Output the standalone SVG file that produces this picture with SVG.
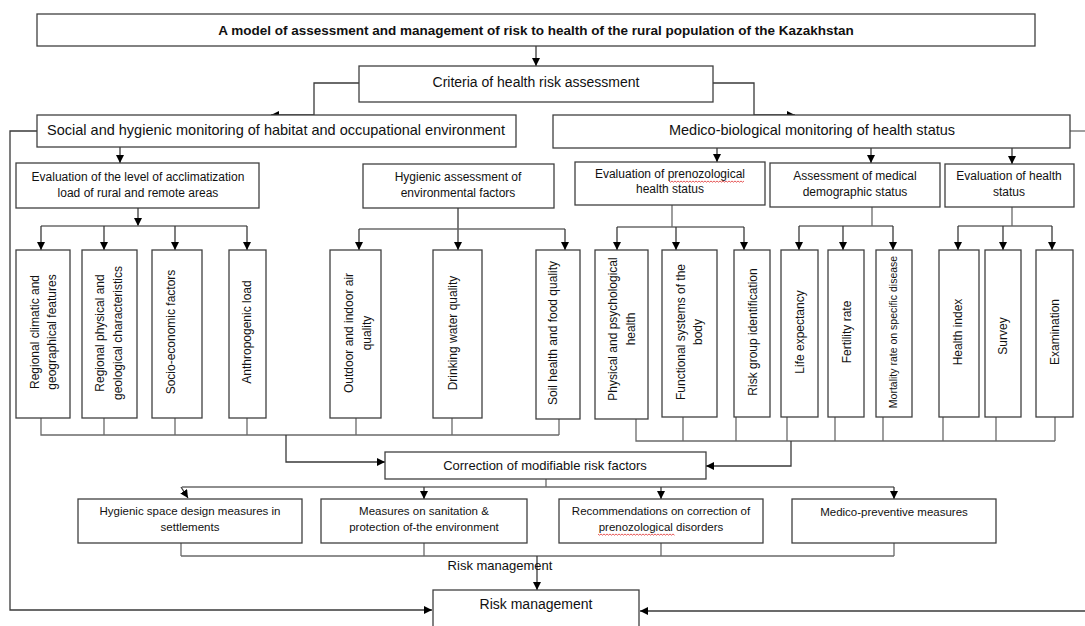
<svg xmlns="http://www.w3.org/2000/svg" width="1085" height="626" viewBox="0 0 1085 626">
<defs>
<marker id="ah" viewBox="0 0 10 10" refX="10" refY="5" markerWidth="8" markerHeight="8" markerUnits="userSpaceOnUse" orient="auto"><path d="M0,0 L10,5 L0,10 z" fill="#000"/></marker>
<style>
.b{fill:#fff;stroke:#404040;stroke-width:1.3}
.c{fill:none;stroke:#6a6a6a;stroke-width:1.3}
.a{fill:none;stroke:#3a3a3a;stroke-width:1.3;marker-end:url(#ah)}
text{font-family:"Liberation Sans",Arial,sans-serif;fill:#111;text-anchor:middle}
.t0{font-size:13.5px;font-weight:bold}
.t1{font-size:14px}
.t1w{font-size:14.5px}
.t2{font-size:12px}
.t3{font-size:11.5px}
.tc{font-size:13px}
.v{font-size:12px}
.vs{font-size:10.5px}
.sp{fill:none;stroke:#e03030;stroke-width:0.8}
</style>
</defs>
<rect width="1085" height="626" fill="#fff"/>

<g id="connectors">
<path class="a" d="M536,46 V66"/>
<path class="a" d="M359,83 H314 V115 H271"/>
<path class="a" d="M713,83 H754 V115 H795"/>
<path class="a" d="M37,131 H10 V610 H432"/>
<path class="c" d="M1070,131 H1085"/>
<path class="a" d="M1085,611 H640"/>
<path class="a" d="M120,147 V163"/>
<path class="a" d="M717,148 V162"/>
<path class="a" d="M871,148 V163"/>
<path class="a" d="M1012,148 V164"/>

<path class="a" d="M138,208 V226"/>
<path class="c" d="M41,226 H247"/>
<path class="a" d="M41,226 V250"/><path class="a" d="M104,226 V250"/><path class="a" d="M175,226 V250"/><path class="a" d="M247,226 V250"/>

<path class="a" d="M458,208 V250"/>
<path class="c" d="M359,229 H565"/>
<path class="a" d="M359,229 V250"/><path class="a" d="M565,229 V250"/>

<path class="c" d="M672,205 V227 M617,227 H744"/>
<path class="a" d="M617,227 V250"/><path class="a" d="M676,227 V250"/><path class="a" d="M744,227 V250"/>

<path class="c" d="M872,207 V226 M799,226 H893"/>
<path class="a" d="M799,226 V250"/><path class="a" d="M843,226 V250"/><path class="a" d="M893,226 V250"/>

<path class="c" d="M1012,207 V226 M958,226 H1052"/>
<path class="a" d="M958,226 V250"/><path class="a" d="M1003,226 V250"/><path class="a" d="M1052,226 V250"/>

<path class="c" d="M41,418 V435 H559 M104,418 V435 M175,418 V435 M247,418 V435 M356,418 V435 M452,418 V435 M559,419 V435"/>
<path class="a" d="M286,435 V462 H385"/>
<path class="c" d="M636,419 V441 H1055 M683,417 V441 M736,417 V441 M787,417 V441 M835,417 V441 M883,417 V441 M943,417 V441 M996,417 V441 M1055,417 V441"/>
<path class="a" d="M791,441 V466 H706"/>

<path class="c" d="M546,479 V487 M182,487 H894"/>
<path class="a" d="M181,487 L188,498"/>
<path class="a" d="M424,487 V499"/><path class="a" d="M661,487 V499"/><path class="a" d="M894,487 V499"/>
<path class="c" d="M181,543 V556 M424,543 V556 M661,543 V556 M894,543 V556 M181,556 H894"/>
<path class="a" d="M537,556 V590"/>
</g>

<g id="n-title"><rect class="b" x="37" y="14" width="998" height="32"/><text class="t0" x="536" y="35">A model of assessment and management of risk to health of the rural population of the Kazakhstan</text></g>
<g id="n-criteria"><rect class="b" x="359" y="66" width="354" height="36"/><text class="t1" x="536" y="87">Criteria of health risk assessment</text></g>
<g id="n-social"><rect class="b" x="37" y="115" width="479" height="32"/><text class="t1w" x="276" y="135">Social and hygienic monitoring of habitat and occupational environment</text></g>
<g id="n-medico"><rect class="b" x="553" y="115" width="517" height="33"/><text class="t1w" x="812" y="135">Medico-biological monitoring of health status</text></g>

<g id="n-eval-accl"><rect class="b" x="16" y="163" width="243" height="45"/><text class="t2" x="138" y="181">Evaluation of the level of acclimatization</text><text class="t2" x="138" y="197">load of rural and remote areas</text></g>
<g id="n-hyg-assess"><rect class="b" x="363" y="164" width="191" height="44"/><text class="t2" x="458" y="181">Hygienic assessment of</text><text class="t2" x="458" y="197">environmental factors</text></g>
<g id="n-prenoz"><rect class="b" x="575" y="162" width="190" height="43"/><text class="t2" x="670" y="178">Evaluation of prenozological</text><text class="t2" x="670" y="193">health status</text><path class="sp" d="M669,181 l1.5,1.2 1.5,-1.2 1.5,1.2 1.5,-1.2 1.5,1.2 1.5,-1.2 1.5,1.2 1.5,-1.2 1.5,1.2 1.5,-1.2 1.5,1.2 1.5,-1.2 1.5,1.2 1.5,-1.2 1.5,1.2 1.5,-1.2 1.5,1.2 1.5,-1.2 1.5,1.2 1.5,-1.2 1.5,1.2 1.5,-1.2 1.5,1.2 1.5,-1.2 1.5,1.2 1.5,-1.2 1.5,1.2 1.5,-1.2 1.5,1.2 1.5,-1.2 1.5,1.2 1.5,-1.2 1.5,1.2 1.5,-1.2 1.5,1.2 1.5,-1.2 1.5,1.2 1.5,-1.2 1.5,1.2 1.5,-1.2 1.5,1.2 1.5,-1.2 1.5,1.2 1.5,-1.2 1.5,1.2 1.5,-1.2 1.5,1.2 1.5,-1.2 1.5,1.2 1.5,-1.2"/></g>
<g id="n-demog"><rect class="b" x="770" y="163" width="170" height="44"/><text class="t2" x="855" y="180">Assessment of medical</text><text class="t2" x="855" y="196">demographic status</text></g>
<g id="n-eval-health"><rect class="b" x="945" y="164" width="129" height="43"/><text class="t2" x="1009" y="180">Evaluation of health</text><text class="t2" x="1009" y="196">status</text></g>

<g id="n-climatic"><rect class="b" x="16" y="250" width="54" height="168"/><text class="v" transform="translate(0,332) rotate(-90)"><tspan x="0" y="39">Regional climatic and</tspan><tspan x="0" y="56">geographical features</tspan></text></g>
<g id="n-physical"><rect class="b" x="82" y="250" width="55" height="168"/><text class="v" transform="translate(0,333) rotate(-90)"><tspan x="0" y="104">Regional physical and</tspan><tspan x="0" y="122">geological characteristics</tspan></text></g>
<g id="n-socio"><rect class="b" x="152" y="250" width="50" height="168"/><text class="v" transform="translate(0,332) rotate(-90)"><tspan x="0" y="175">Socio-economic factors</tspan></text></g>
<g id="n-anthro"><rect class="b" x="229" y="250" width="37" height="168"/><text class="v" transform="translate(0,332) rotate(-90)"><tspan x="0" y="251">Anthropogenic load</tspan></text></g>
<g id="n-air"><rect class="b" x="330" y="250" width="51" height="168"/><text class="v" transform="translate(0,333) rotate(-90)"><tspan x="0" y="353">Outdoor and indoor air</tspan><tspan x="0" y="371">quality</tspan></text></g>
<g id="n-water"><rect class="b" x="433" y="250" width="49" height="168"/><text class="v" transform="translate(0,333) rotate(-90)"><tspan x="0" y="457">Drinking water quality</tspan></text></g>
<g id="n-soil"><rect class="b" x="536" y="250" width="44" height="169"/><text class="v" transform="translate(0,333) rotate(-90)"><tspan x="0" y="557">Soil health and food quality</tspan></text></g>
<g id="n-psych"><rect class="b" x="595" y="250" width="53" height="169"/><text class="v" transform="translate(0,329) rotate(-90)"><tspan x="0" y="617">Physical and psychological</tspan><tspan x="0" y="635">health</tspan></text></g>
<g id="n-functional"><rect class="b" x="662" y="250" width="55" height="167"/><text class="v" transform="translate(0,332) rotate(-90)"><tspan x="0" y="685">Functional systems of the</tspan><tspan x="0" y="702">body</tspan></text></g>
<g id="n-riskgroup"><rect class="b" x="734" y="250" width="36" height="167"/><text class="v" transform="translate(0,332) rotate(-90)"><tspan x="0" y="757">Risk group identification</tspan></text></g>
<g id="n-life"><rect class="b" x="781" y="250" width="37" height="167"/><text class="v" transform="translate(0,332) rotate(-90)"><tspan x="0" y="804">Life expectancy</tspan></text></g>
<g id="n-fertility"><rect class="b" x="828" y="250" width="36" height="167"/><text class="v" transform="translate(0,332) rotate(-90)"><tspan x="0" y="851">Fertility rate</tspan></text></g>
<g id="n-mortality"><rect class="b" x="876" y="250" width="36" height="167"/><text class="vs" transform="translate(0,332) rotate(-90)"><tspan x="0" y="897">Mortality rate on specific disease</tspan></text></g>
<g id="n-index"><rect class="b" x="939" y="250" width="40" height="167"/><text class="v" transform="translate(0,332) rotate(-90)"><tspan x="0" y="962">Health index</tspan></text></g>
<g id="n-survey"><rect class="b" x="985" y="250" width="36" height="167"/><text class="v" transform="translate(0,336) rotate(-90)"><tspan x="0" y="1007">Survey</tspan></text></g>
<g id="n-exam"><rect class="b" x="1036" y="250" width="37" height="167"/><text class="v" transform="translate(0,332) rotate(-90)"><tspan x="0" y="1059">Examination</tspan></text></g>

<g id="n-correction"><rect class="b" x="385" y="452" width="321" height="27"/><text class="tc" x="545" y="470">Correction of modifiable risk factors</text></g>

<g id="n-space"><rect class="b" x="78" y="499" width="224" height="44"/><text class="t3" x="190" y="515">Hygienic space design measures in</text><text class="t3" x="190" y="531">settlements</text></g>
<g id="n-sanitation"><rect class="b" x="321" y="499" width="206" height="44"/><text class="t3" x="424" y="515">Measures on sanitation &amp;</text><text class="t3" x="424" y="531">protection of-the environment</text></g>
<g id="n-recommend"><rect class="b" x="559" y="499" width="204" height="44"/><text class="t3" x="661" y="515">Recommendations on correction of</text><text class="t3" x="661" y="531">prenozological disorders</text><path class="sp" d="M598,534 l1.5,1.2 1.5,-1.2 1.5,1.2 1.5,-1.2 1.5,1.2 1.5,-1.2 1.5,1.2 1.5,-1.2 1.5,1.2 1.5,-1.2 1.5,1.2 1.5,-1.2 1.5,1.2 1.5,-1.2 1.5,1.2 1.5,-1.2 1.5,1.2 1.5,-1.2 1.5,1.2 1.5,-1.2 1.5,1.2 1.5,-1.2 1.5,1.2 1.5,-1.2 1.5,1.2 1.5,-1.2 1.5,1.2 1.5,-1.2 1.5,1.2 1.5,-1.2 1.5,1.2 1.5,-1.2 1.5,1.2 1.5,-1.2 1.5,1.2 1.5,-1.2 1.5,1.2 1.5,-1.2 1.5,1.2 1.5,-1.2 1.5,1.2 1.5,-1.2 1.5,1.2 1.5,-1.2 1.5,1.2 1.5,-1.2 1.5,1.2 1.5,-1.2 1.5,1.2 1.5,-1.2 1.5,1.2"/></g>
<g id="n-preventive"><rect class="b" x="792" y="499" width="204" height="44"/><text class="t3" x="894" y="516">Medico-preventive measures</text></g>

<g id="label-risk"><text class="tc" x="500" y="570">Risk management</text></g>
<g id="n-riskmgmt"><rect class="b" x="433" y="590" width="206" height="50"/><text class="t1" x="536" y="609">Risk management</text></g>
</svg>
